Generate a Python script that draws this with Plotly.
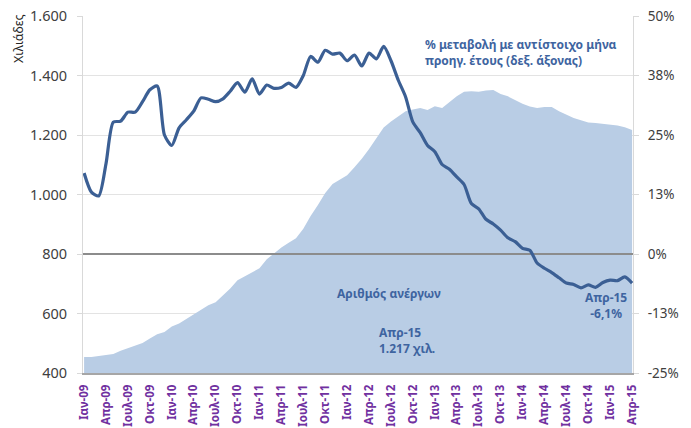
import plotly.graph_objects as go

# ---- data ----
months_gr = ["Ιαν", "Φεβ", "Μαρ", "Απρ", "Μαϊ", "Ιουν", "Ιουλ", "Αυγ", "Σεπ", "Οκτ", "Νοε", "Δεκ"]
years = ["09", "10", "11", "12", "13", "14", "15"]
categories = [f"{m}-{y}" for y in years for m in months_gr][:76]  # Ιαν-09 .. Απρ-15

unemployed_thousands = [
    454, 454, 457, 460, 464, 475, 483, 492, 501, 516, 530, 538,
    556, 566, 582, 597, 614, 628, 638, 660, 684, 712, 725, 738,
    752, 782, 802, 822, 838, 853, 885, 928, 965, 1005, 1035, 1050,
    1065, 1092, 1120, 1153, 1190, 1225, 1245, 1262, 1280, 1286, 1291, 1284,
    1297, 1291, 1310, 1330, 1345, 1347, 1345, 1350, 1351, 1338, 1330, 1318,
    1305, 1296, 1291, 1294, 1294, 1280, 1268, 1257, 1250, 1242, 1240, 1238,
    1235, 1232, 1226, 1217,
]

yoy_change_pct = [
    17.0, 13.0, 12.2, 19.0, 27.7, 27.9, 29.8, 29.8, 32.0, 34.5, 35.3, 25.0,
    22.8, 26.5, 28.2, 30.0, 32.8, 32.5, 32.0, 32.6, 34.2, 36.0, 34.0, 36.8,
    33.6, 35.5, 34.8, 35.0, 35.9, 35.0, 37.5, 41.5, 40.3, 42.8, 42.0, 42.2,
    40.6, 41.8, 39.5, 42.2, 41.0, 43.6, 40.6, 36.5, 33.0, 27.7, 25.5, 22.8,
    21.5, 18.8, 17.8, 16.2, 14.6, 10.6, 9.5, 7.3, 6.3, 5.0, 3.4, 2.6,
    1.2, 0.8, -1.9, -3.0, -3.9, -5.0, -6.1, -6.4, -7.1, -6.5, -7.0, -6.0,
    -5.5, -5.6, -4.8, -6.1,
]

tick_idx = list(range(0, 76, 3))
tick_labels = [categories[i] for i in tick_idx]
left_ticks = [400, 600, 800, 1000, 1200, 1400, 1600]
right_ticks = [-25, -12.5, 0, 12.5, 25, 37.5, 50]
right_tick_labels = ["-25%", "-13%", "0%", "13%", "25%", "38%", "50%"]

x_idx = list(range(len(categories)))

AREA = "#B9CDE5"
LINE = "#3B5F94"
TXT = "#3E64A0"
FONT = "Noto Sans"

fig = go.Figure()
fig.add_trace(go.Scatter(
    x=x_idx, y=unemployed_thousands, mode="lines", fill="tozeroy",
    fillcolor=AREA, line=dict(width=0, color=AREA), hoverinfo="skip",
    showlegend=False, yaxis="y",
))
fig.add_trace(go.Scatter(
    x=[x_idx[0] - 1, x_idx[-1] + 1], y=[0, 0], mode="lines",
    line=dict(color="#8C8C8C", width=2), yaxis="y2", showlegend=False,
    hoverinfo="skip",
))
fig.add_trace(go.Scatter(
    x=x_idx, y=yoy_change_pct, mode="lines",
    line=dict(color=LINE, width=3.2, shape="spline", smoothing=0.7),
    yaxis="y2", showlegend=False,
))

# page adds an 8px body margin, so the figure is 8px smaller and shifted
fig.update_layout(
    width=683, height=420, autosize=False,
    margin=dict(l=75, r=58, t=8, b=55, autoexpand=False),
    plot_bgcolor="white", paper_bgcolor="white",
    separators=",.",
    font=dict(family=FONT, color="#404040"),
    xaxis=dict(
        range=[-0.15, 75.12], tickmode="array", tickvals=tick_idx, ticktext=tick_labels,
        tickangle=-90, tickfont=dict(size=11.5, color="#7030A0", family=FONT, weight="bold"),
        showgrid=False, zeroline=False, showline=True, linecolor="#A6A6A6", linewidth=2,
        ticks="", ticklabelstandoff=5, automargin=False,
    ),
    yaxis=dict(
        range=[400, 1600], tickvals=left_ticks, tickformat=",d",
        tickfont=dict(size=14.5, color="#404040"),
        showgrid=True, gridcolor="#E3E3E3", gridwidth=1, zeroline=False,
        showline=True, linecolor="#D9D9D9", linewidth=1,
        ticks="outside", ticklen=5, tickcolor="#D9D9D9", ticklabelstandoff=7,
        automargin=False, ticklabeloverflow="allow",
    ),
    yaxis2=dict(
        range=[-25, 50], overlaying="y", side="right",
        tickvals=right_ticks, ticktext=right_tick_labels,
        tickfont=dict(size=13.5, color="#404040"),
        showgrid=False, zeroline=False,
        showline=True, linecolor="#D9D9D9", linewidth=1,
        ticks="outside", ticklen=5, tickcolor="#D9D9D9", ticklabelstandoff=6,
        automargin=False, ticklabeloverflow="allow",
    ),
)

ann_font = dict(family=FONT, size=12, color=TXT)
fig.add_annotation(
    xref="paper", yref="paper", x=0.618, y=0.898, xanchor="left", yanchor="middle",
    align="left", showarrow=False,
    text="<b>% μεταβολή με αντίστοιχο μήνα<br>προηγ. έτους (δεξ. άξονας)</b>", font=ann_font,
)
fig.add_annotation(
    xref="paper", yref="paper", x=0.556, y=0.224, xanchor="center", yanchor="middle",
    showarrow=False, text="<b>Αριθμός ανέργων</b>", font=ann_font,
)
fig.add_annotation(
    xref="paper", yref="paper", x=0.535, y=0.091, xanchor="left", yanchor="middle",
    align="left", showarrow=False, text="<b>Απρ-15<br>1.217 χιλ.</b>", font=ann_font,
)
fig.add_annotation(
    xref="paper", yref="paper", x=0.951, y=0.19, xanchor="center", yanchor="middle",
    align="center", showarrow=False, text="<b>Απρ-15<br>-6,1%</b>", font=ann_font,
)
fig.add_annotation(
    xref="paper", yref="paper", x=-0.116, y=0.936, xanchor="center", yanchor="middle",
    textangle=-90, showarrow=False, text="Χιλιάδες",
    font=dict(family=FONT, size=12.5, color="#262626"),
)

fig.write_html("out.html")
